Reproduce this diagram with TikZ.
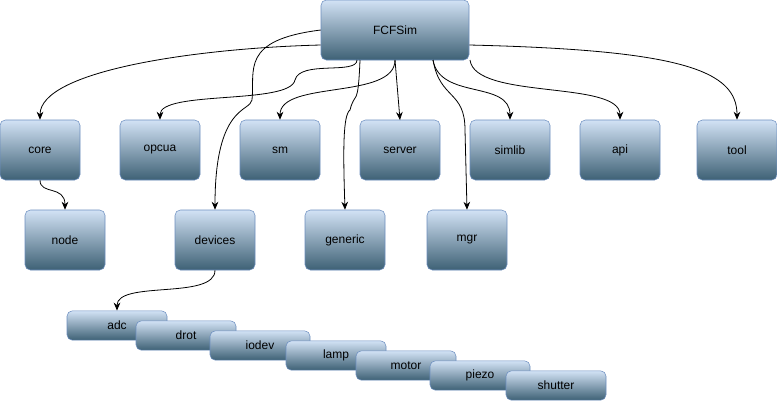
\documentclass[tikz,border=0pt]{standalone}
\usepackage{fontspec}
\setmainfont{Liberation Sans}
\usetikzlibrary{arrows.meta}
\definecolor{gtop}{HTML}{D2E2F5}
\definecolor{gbot}{HTML}{3E6175}
\definecolor{bord}{HTML}{6C8EBF}
\begin{document}
\begin{tikzpicture}[x=0.75pt,y=-0.75pt,
  box/.style={draw=bord,rounded corners=4pt,top color=gtop,bottom color=gbot,minimum width=60pt,minimum height=45pt,inner sep=0pt,font=\fontsize{9}{10}\selectfont},
  small/.style={box,minimum width=75pt,minimum height=22pt},
  e/.style={-{Stealth[length=6pt,width=5pt]},black,line width=0.6pt}]
\useasboundingbox (0,0) rectangle (777,401);
\node[box,minimum width=111pt] (F) at (395,30) {FCFSim};
\node[box] (core) at (40,150) {core};
\node[box] (opcua) at (160,150) {opcua};
\node[box] (sm) at (280,150) {sm};
\node[box] (server) at (400,150) {server};
\node[box] (simlib) at (510,150) {simlib};
\node[box] (api) at (620,150) {api};
\node[box] (tool) at (737,150) {tool};
\node[box] (node) at (65,240) {node};
\node[box] (devices) at (215,240) {devices};
\node[box] (generic) at (345,240) {generic};
\node[box] (mgr) at (467,240) {mgr};
\node[small] (adc) at (117,325.5) {adc};
\node[small] (drot) at (186,335.5) {drot};
\node[small] (iodev) at (260,345.5) {iodev};
\node[small] (lamp) at (336,355.5) {lamp};
\node[small] (motor) at (406,365.5) {motor};
\node[small] (piezo) at (480,375.5) {piezo};
\node[small] (shutter) at (556,385.5) {shutter};
\draw[e] (F.west|-0,45) .. controls (200,48) and (40,70) .. (core.north);
\draw[e] (F.west|-0,30) .. controls (240,40) and (255,70) .. (252,100) .. controls (250,112) and (215,105) .. (devices.north);
\draw[e] (357,60) .. controls (357,75) and (300,60) .. (295,80) .. controls (290,105) and (160,90) .. (opcua.north);
\draw[e] (360,60) .. controls (358,110) and (355,90) .. (350,110) .. controls (343,115) and (343,150) .. (generic.north);
\draw[e] (395,60) .. controls (395,100) and (280,80) .. (sm.north);
\draw[e] (395,60) -- (400,120);
\draw[e] (433,60) .. controls (440,100) and (465,90) .. (465,130) -- (mgr.north);
\draw[e] (433,60) .. controls (440,100) and (510,80) .. (simlib.north);
\draw[e] (470,60) .. controls (475,100) and (620,80) .. (api.north);
\draw[e] (F.east|-0,45) .. controls (680,50) and (737,70) .. (tool.north);
\draw[e] (core.south) .. controls (40,195) and (65,185) .. (node.north);
\draw[e] (devices.south) .. controls (215,300) and (117,280) .. (adc.north);
\end{tikzpicture}
\end{document}
